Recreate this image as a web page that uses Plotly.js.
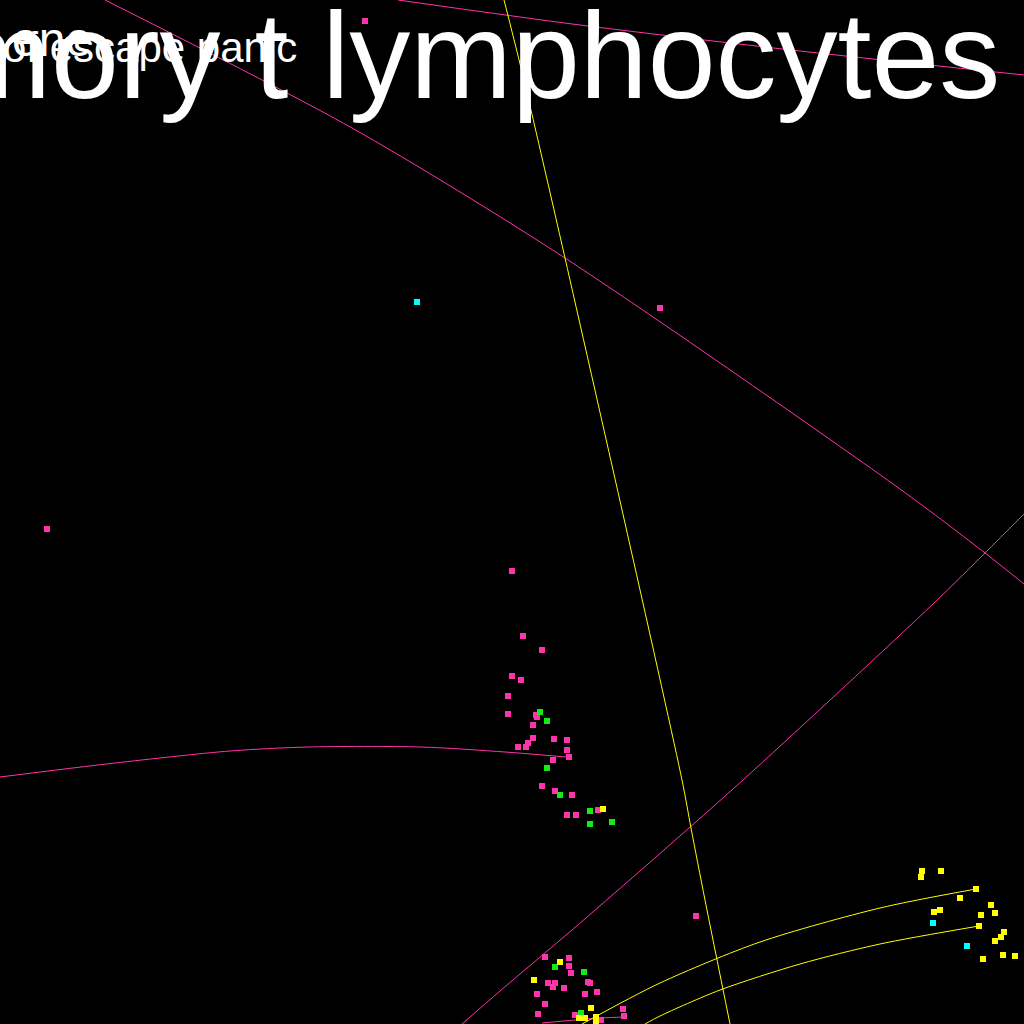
<!DOCTYPE html>
<html>
<head>
<meta charset="utf-8">
<script src="https://cdn.plot.ly/plotly-3.0.1.min.js"></script>
<style>html,body{margin:0;padding:0;background:#000;}#chart{width:1024px;height:1024px;}</style>
</head>
<body>
<div id="chart"></div>
<script>
// Marker series (in the chart's own units)
const pinkX = [365,660,47,512,523,542,512,521,508,508,536,537,533,533,528,518,526,554,567,567,569,553,542,555,572,567,576,598,696,
               545,569,569,571,548,555,553,564,588,590,537,585,597,545,538,623,624,575,601];
const pinkY = [21,308,529,571,636,650,676,680,696,714,715,717,725,738,743,747,747,739,740,750,757,760,786,791,795,815,815,810,916,
               957,958,966,973,983,983,987,988,982,983,994,994,992,1004,1014,1009,1016,1015,1020];
const greenX = [540,547,547,560,590,590,612,555,584,581];
const greenY = [712,721,768,795,811,824,822,967,972,1013];
const yellowX = [603,560,534,591,579,585,596,596,922,921,941,976,960,991,981,995,934,940,979,1004,1001,995,1003,1015,983];
const yellowY = [809,962,980,1008,1018,1018,1017,1022,871,877,871,889,898,905,915,913,912,910,926,932,937,941,955,956,959];
const cyanX = [417,933,967];
const cyanY = [302,923,946];

// Line series
const pinkTopX = [398,580,800,1024];
const pinkTopY = [0,25,51,75];
const pinkDiagX = [105,352,565,900,985,1024];
const pinkDiagY = [0,128,258,489,553,584];
const pinkRiseX = [462,500,572,640,743,933,985,1024];
const pinkRiseY = [1024,991,930,871,780,604,553,514];
const pinkArcX = [0,115,230,308,421,505,566];
const pinkArcY = [777,763,751,747,747,752,757];
const pinkLowX = [542,575,600,625];
const pinkLowY = [1023,1020,1018,1017];
const yellowSteepX = [504,522,565,682,691,705,730];
const yellowSteepY = [0,72,258,780,828,900,1024];
const yellowArcAX = [582,660,760,880,976];
const yellowArcAY = [1024,983,942,908,889];
const yellowArcBX = [645,660,720,800,880,979];
const yellowArcBY = [1024,1016,990,964,944,926];

// Text labels
const labels = ["memory t lymphocytes", "of escape panic", "ene"];
const labelX = [1002, 299, 94];
const labelY = [56, 47, 39];
const labelSize = [122, 42, 48];

const PINK = '#ff33aa', GREEN = '#11ee11', YELLOW = '#ffff00', CYAN = '#00ffff';

function line(x, y, c) {
  return {x: x, y: y, type: 'scatter', mode: 'lines', hoverinfo: 'skip',
          line: {color: c, width: 1, shape: 'spline', smoothing: 0.8}};
}
function pts(x, y, c) {
  return {x: x, y: y, type: 'scatter', mode: 'markers', hoverinfo: 'skip',
          marker: {color: c, size: 6, symbol: 'square', line: {width: 0}}};
}

const traces = [
  line(pinkTopX, pinkTopY, PINK),
  line(pinkDiagX, pinkDiagY, PINK),
  line(pinkRiseX, pinkRiseY, PINK),
  line(pinkArcX, pinkArcY, PINK),
  line(pinkLowX, pinkLowY, PINK),
  line(yellowSteepX, yellowSteepY, YELLOW),
  line(yellowArcAX, yellowArcAY, YELLOW),
  line(yellowArcBX, yellowArcBY, YELLOW),
  pts(pinkX, pinkY, PINK),
  pts(greenX, greenY, GREEN),
  pts(yellowX, yellowY, YELLOW),
  pts(cyanX, cyanY, CYAN)
];

const annotations = labels.map((t, i) => ({
  text: t, x: labelX[i], y: labelY[i], xref: 'x', yref: 'y',
  xanchor: 'right', yanchor: 'middle', showarrow: false,
  font: {family: 'Liberation Sans, Arial, sans-serif', size: labelSize[i], color: '#ffffff'}
}));

const layout = {
  width: 1024, height: 1024,
  margin: {l: 0, r: 0, t: 0, b: 0, pad: 0},
  paper_bgcolor: '#000000', plot_bgcolor: '#000000',
  showlegend: false,
  xaxis: {range: [0, 1024], visible: false, fixedrange: true},
  yaxis: {range: [1024, 0], visible: false, fixedrange: true},
  annotations: annotations
};

Plotly.newPlot('chart', traces, layout, {displayModeBar: false, staticPlot: true});
</script>
</body>
</html>
